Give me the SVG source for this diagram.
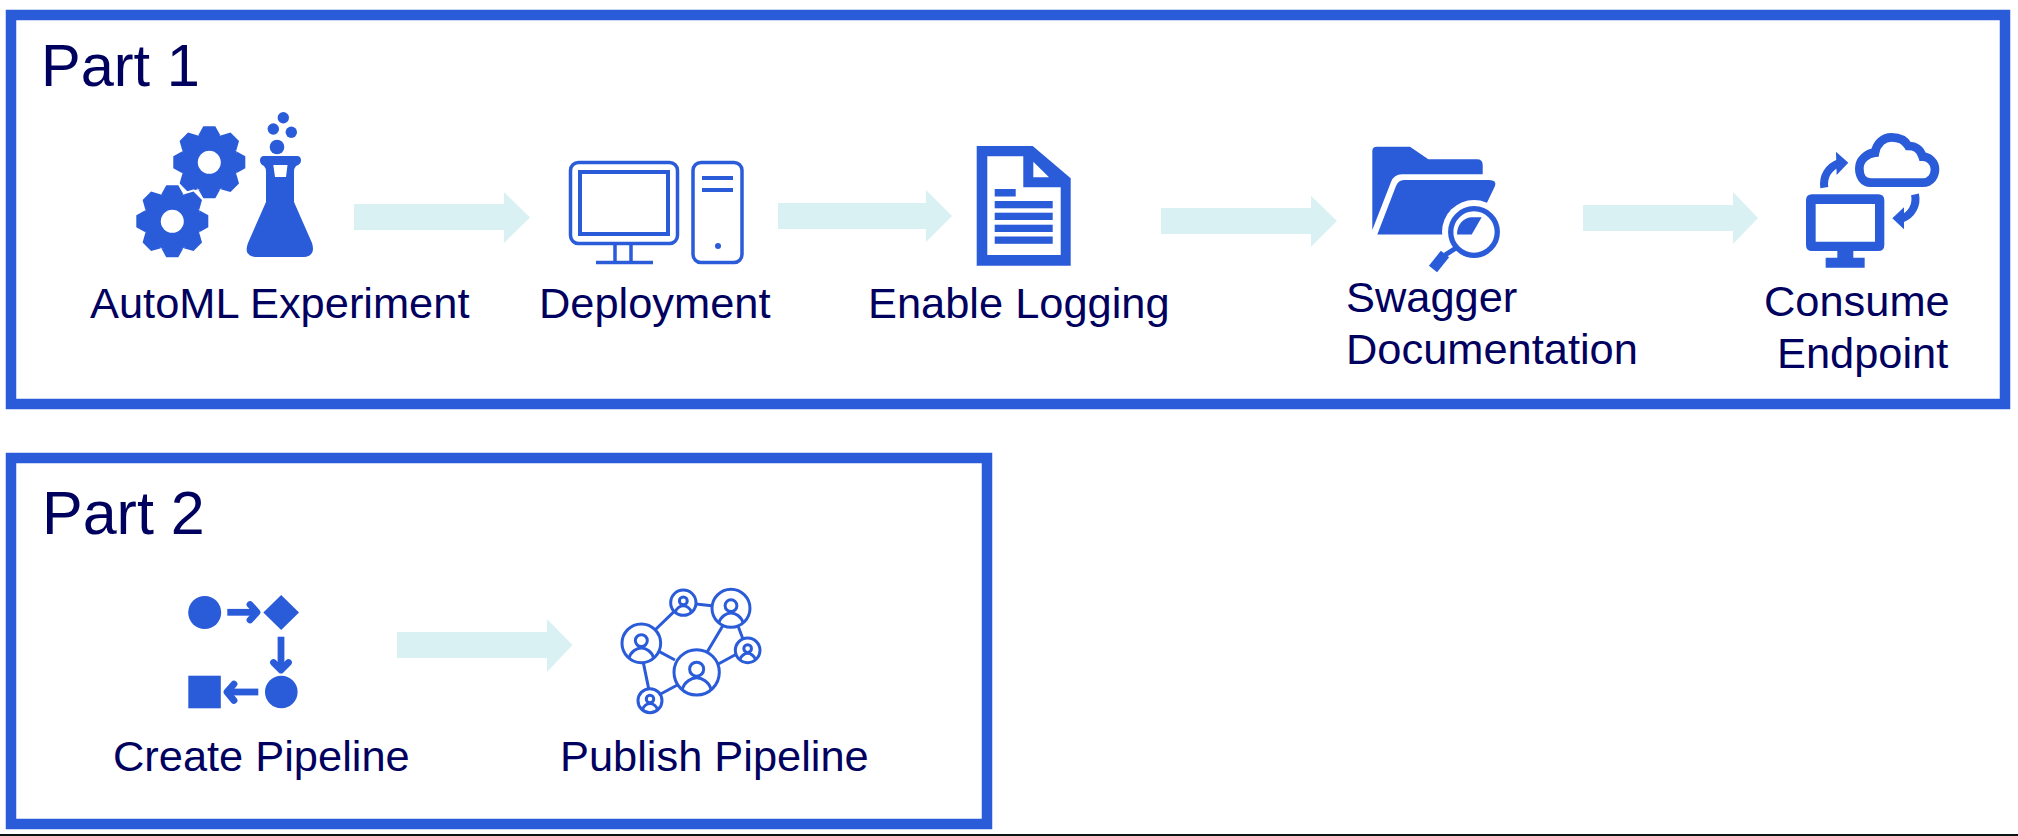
<svg xmlns="http://www.w3.org/2000/svg" width="2018" height="836" viewBox="0 0 2018 836">
<style>
text{font-family:"Liberation Sans",Arial,sans-serif;fill:#00005f;font-size:43.4px}
.title{font-size:59.5px}
.frame{fill:none;stroke:#2a5bd9;stroke-width:10.5}
.b{fill:#2a5bd9}
.w{fill:#fff}
.l{fill:none;stroke:#2a5bd9;stroke-linecap:butt}
.arrow{fill:#d9f1f3}
.p{fill:none;stroke:#2a5bd9;stroke-width:3;vector-effect:non-scaling-stroke}
.pl{fill:none;stroke:#2a5bd9;stroke-width:6.8;stroke-linecap:round;stroke-linejoin:round}
.ps{fill:none;stroke:#2a5bd9;stroke-width:6.8}
</style>
<defs>
<g id="gear">
<circle r="29"/>
<polygon points="-11,-27 -6,-36 6,-36 11,-27"/>
<polygon points="-11,-27 -6,-36 6,-36 11,-27" transform="rotate(45)"/>
<polygon points="-11,-27 -6,-36 6,-36 11,-27" transform="rotate(90)"/>
<polygon points="-11,-27 -6,-36 6,-36 11,-27" transform="rotate(135)"/>
<polygon points="-11,-27 -6,-36 6,-36 11,-27" transform="rotate(180)"/>
<polygon points="-11,-27 -6,-36 6,-36 11,-27" transform="rotate(225)"/>
<polygon points="-11,-27 -6,-36 6,-36 11,-27" transform="rotate(270)"/>
<polygon points="-11,-27 -6,-36 6,-36 11,-27" transform="rotate(315)"/>
</g>
<g id="person">
<circle class="p" r="1"/>
<circle class="p" cy="-0.14" r="0.31"/>
<path class="p" d="M-.64 .77C-.55 .42-.22 .24 0 .24C.22 .24 .55 .42 .64 .77"/>
</g>
</defs>
<rect width="2018" height="836" fill="#fff"/>
<rect x="0" y="834" width="2018" height="2" fill="#0a1414"/>

<g id="part1">
<rect class="frame" x="11" y="15" width="1994" height="389"/>
<text class="title" x="41" y="86">Part 1</text>
</g>
<g id="part2">
<rect class="frame" x="11" y="458" width="976" height="366"/>
<text class="title" style="font-size:61px" x="42" y="534">Part 2</text>
</g>

<g id="connectors">
<polygon class="arrow" points="354,204 504,204 504,192 530,217.5 504,243 504,230 354,230"/>
<polygon class="arrow" points="778,203 926,203 926,190 952,216 926,242 926,229 778,229"/>
<polygon class="arrow" points="1161,208 1311,208 1311,195.700 1337,221 1311,246.700 1311,234 1161,234"/>
<polygon class="arrow" points="1583,205 1733,205 1733,192 1758,218 1733,244 1733,231 1583,231"/>
<polygon class="arrow" points="397,632 547,632 547,619 572.500,645 547,672 547,658 397,658"/>
</g>

<g id="automl">
<use href="#gear" class="b" transform="translate(209.3,162.300)"/>
<circle class="w" cx="209.3" cy="162.3" r="11.500"/>
<use href="#gear" fill="#fff" stroke="#fff" stroke-width="4" transform="translate(172.3,221.300)"/>
<use href="#gear" class="b" transform="translate(172.3,221.300)"/>
<circle class="w" cx="172.3" cy="221.3" r="11.500"/>
<path class="b" d="M264 156H297Q301 156 301 160.500Q301 164 296 166Q294 168 294 172V202L312 243Q316 256 304 257H256Q243 256 248 243L266 202V172Q266 168 264 166Q260 164 260 160.500Q260 156 264 156Z"/>
<polygon class="w" points="273.300,165 287.500,165 286,177 275,177"/>
<circle class="b" cx="283.3" cy="117.7" r="5.700"/>
<circle class="b" cx="273.3" cy="129" r="5.700"/>
<circle class="b" cx="291.3" cy="132.3" r="5.700"/>
<circle class="b" cx="277" cy="147" r="7.300"/>
<text x="90" y="317.500">AutoML Experiment</text>
</g>

<g id="deployment">
<rect class="l" stroke-width="3.500" x="570.500" y="162.500" width="107" height="81" rx="8"/>
<rect class="l" stroke-width="4" x="580" y="172" width="88" height="62"/>
<path class="l" stroke-width="3.500" d="M615 244V262M631 244V262M596 262.500H653"/>
<rect class="l" stroke-width="3.500" x="693" y="162.500" width="49" height="100" rx="8"/>
<path class="l" stroke-width="4" d="M702 178H733M702 190H733"/>
<circle class="b" cx="718" cy="246" r="3"/>
<text x="539" y="317.500">Deployment</text>
</g>

<g id="logging">
<polygon class="b" points="976.700,146 1032.700,146 1070.700,178.300 1070.700,265.700 976.700,265.700"/>
<polygon class="w" points="987.300,156.300 1023.300,156.300 1023.300,187.300 1060.700,187.300 1060.700,255 987.300,255"/>
<polygon class="w" points="1033.300,161.700 1049,177.300 1033.300,177.300"/>
<rect class="b" x="994.7" y="189" width="21" height="7.500"/>
<rect class="b" x="994.7" y="201" width="58" height="7.300"/>
<rect class="b" x="994.7" y="212.700" width="58" height="7.300"/>
<rect class="b" x="994.7" y="224.700" width="58" height="7.300"/>
<rect class="b" x="994.7" y="236.500" width="58" height="7.300"/>
<text x="868" y="317.500">Enable Logging</text>
</g>

<g id="swagger">
<path class="b" d="M1372.300 151Q1372.300 146.700 1377 146.700H1410L1428.300 159.300H1477Q1482.700 159.300 1482.700 165V174.300H1402Q1394 174.300 1391 182L1372.300 230Z"/>
<path class="b" d="M1377.300 234.500L1396 186Q1398.300 180 1404 180H1489Q1497 180 1495 186L1471.700 234.500Z"/>
<circle class="w" cx="1474" cy="232" r="32"/>
<path class="b" d="M1457 234.500C1457 225 1463 218 1471 217.300H1481.700L1471.700 234.500Z"/>
<circle class="l" stroke-width="5.300" cx="1474" cy="232" r="23.300"/>
<path class="l" stroke-width="5" d="M1456 248L1445 255"/>
<path class="l" stroke-width="10.500" stroke-linecap="round" d="M1445 254L1433 269"/>
<text x="1346" y="312">Swagger</text>
<text x="1346" y="364">Documentation</text>
</g>

<g id="consume">
<g transform="translate(1780,120) scale(0.3333)">
<path class="b" fill-rule="evenodd" d="M96 223H295Q313 223 313 241V375Q313 393 295 393H220V413H254V443H137V413H172V393H96Q78 393 78 375V241Q78 223 96 223ZM107 252V365H285V252Z"/>
<path class="l" stroke-width="26" d="M272 188H428C455 188 465 165 465 148C465 125 445 110 428 110C420 85 405 78 385 78C375 60 355 52 335 52C310 52 290 70 285 98C260 100 238 120 238 145C238 170 250 188 272 188Z"/>
<path class="l" stroke-width="24" d="M133 203C128 170 145 140 180 128"/>
<polygon class="b" points="168,95 205,128 170,165"/>
<path class="l" stroke-width="24" d="M405 223C412 255 395 285 365 296"/>
<polygon class="b" points="337,295 372,262 372,328"/>
</g>
<text x="1764" y="316">Consume</text>
<text x="1777" y="368">Endpoint</text>
</g>

<g id="create-pipeline">
<circle class="b" cx="204.700" cy="612.500" r="16.500"/>
<path class="ps" d="M227.300 612.300H255"/>
<path class="pl" d="M250 604.500L257 612.300L250 620"/>
<polygon class="b" points="281.200,595 299,612.500 281.200,630 263.300,612.500"/>
<path class="ps" d="M281 636.700V668"/>
<path class="pl" d="M273.500 662.500L281 670L288.500 662.500"/>
<circle class="b" cx="281.300" cy="692" r="16.300"/>
<path class="ps" d="M258.300 692H230"/>
<path class="pl" d="M234 684L227 692L234 700.500"/>
<rect class="b" x="188.300" y="675.700" width="32.500" height="32.600"/>
<text x="113" y="771">Create Pipeline</text>
</g>

<g id="publish-pipeline">
<g transform="translate(600,580) scale(0.3333)">
<path fill="none" stroke="#2a5bd9" stroke-width="9" d="M165 150L222 95M288 72L335 77M368 138L322 215M415 140L428 175M355 252L410 222M178 215L225 240M130 248L146 326M182 342L232 315"/>
<use href="#person" transform="translate(124,190) scale(58)"/>
<use href="#person" transform="translate(250,68) scale(38)"/>
<use href="#person" transform="translate(393,85) scale(57)"/>
<use href="#person" transform="translate(290,277) scale(68)"/>
<use href="#person" transform="translate(443,211) scale(37)"/>
<use href="#person" transform="translate(150,362) scale(36)"/>
</g>
<text x="560" y="771">Publish Pipeline</text>
</g>
</svg>
